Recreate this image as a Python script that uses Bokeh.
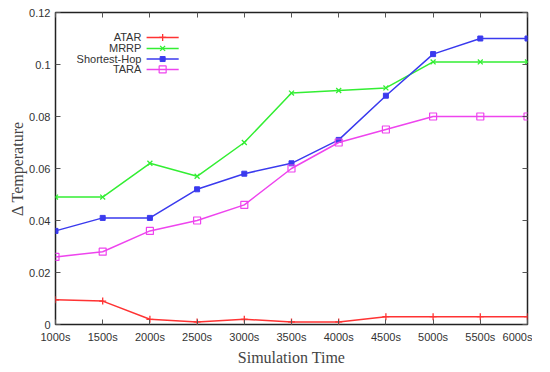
from bokeh.plotting import figure
from bokeh.models import LinearAxis, FixedTicker, Range1d
from bokeh.core.properties import value
from bokeh.embed import file_html
from bokeh.resources import INLINE

times = ["1000s", "1500s", "2000s", "2500s", "3000s", "3500s", "4000s", "4500s", "5000s", "5500s", "6000s"]
atar = [0.0095, 0.009, 0.002, 0.001, 0.002, 0.001, 0.001, 0.003, 0.003, 0.003, 0.003]
mrrp = [0.049, 0.049, 0.062, 0.057, 0.070, 0.089, 0.090, 0.091, 0.101, 0.101, 0.101]
shortest_hop = [0.036, 0.041, 0.041, 0.052, 0.058, 0.062, 0.071, 0.088, 0.104, 0.110, 0.110]
tara = [0.026, 0.028, 0.036, 0.040, 0.046, 0.060, 0.070, 0.075, 0.080, 0.080, 0.080]
y_ticks = [0, 0.02, 0.04, 0.06, 0.08, 0.1, 0.12]
y_tick_labels = ["0", "0.02", "0.04", "0.06", "0.08", "0.1", "0.12"]

names = ["ATAR", "MRRP", "Shortest-Hop", "TARA"]
colors = ["#ff3333", "#33ee33", "#3a3aee", "#ee44ee"]
series = [atar, mrrp, shortest_hop, tara]

xs = list(range(len(times)))

p = figure(frame_width=472, frame_height=312, output_backend="svg", toolbar_location=None,
           x_range=Range1d(0, len(times) - 1), y_range=Range1d(0, 0.12),
           min_border_left=55, min_border_right=5, min_border_top=12, min_border_bottom=5)
p.xgrid.visible = False
p.ygrid.visible = False
p.outline_line_color = "#222222"
p.outline_line_width = 1.5
p.background_fill_color = "white"
p.border_fill_color = "white"

tick_font = "Liberation Sans"

def style_axis(ax):
    ax.axis_line_color = None
    ax.major_tick_in = 5
    ax.major_tick_out = 0
    ax.minor_tick_line_color = None
    ax.major_tick_line_color = "#555555"
    ax.major_label_text_font = tick_font
    ax.major_label_text_font_size = "11px"
    ax.major_label_text_color = "#333333"

# bottom axis
xa = p.xaxis[0]
xa.ticker = FixedTicker(ticks=xs)
xa.major_label_overrides = {i: t for i, t in enumerate(times)}
style_axis(xa)
xa.major_label_standoff = 6
xa.axis_label = "Simulation Time"
xa.axis_label_text_font = "Liberation Serif"
xa.axis_label_text_font_style = "normal"
xa.axis_label_text_font_size = "16px"
xa.axis_label_standoff = 3

ya = p.yaxis[0]
ya.ticker = FixedTicker(ticks=y_ticks)
ya.major_label_overrides = {t: l for t, l in zip(y_ticks, y_tick_labels)}
style_axis(ya)
ya.major_label_standoff = 5
ya.axis_label = "\u0394 Temperature"
ya.axis_label_text_font = "Liberation Serif"
ya.axis_label_text_font_style = "normal"
ya.axis_label_text_font_size = "16px"
ya.axis_label_standoff = 0

top = LinearAxis(ticker=FixedTicker(ticks=xs))
style_axis(top)
top.major_label_overrides = {i: "" for i in xs}
top.major_label_standoff = 0
p.add_layout(top, "above")
right = LinearAxis(ticker=FixedTicker(ticks=y_ticks))
style_axis(right)
right.major_label_overrides = {t: "" for t in y_ticks}
right.major_label_standoff = 0
p.add_layout(right, "right")

markers = ["cross", "x", "square", "square"]
for name, col, ys, mk in zip(names, colors, series, markers):
    p.line(xs, ys, line_color=col, line_width=1.5)
    if name == "TARA":
        p.scatter(xs, ys, marker="square", size=7, line_color=col, fill_color=None, line_width=1.2)
    elif name == "Shortest-Hop":
        p.scatter(xs, ys, marker="square", size=5, line_color=col, fill_color=col)
    else:
        p.scatter(xs, ys, marker=mk, size=7, line_color=col, line_width=1.3)

# legend (gnuplot style: label then sample)
leg_y = [0.1104, 0.1062, 0.1021, 0.0981]
leg_text_x = 1.82
leg_x0, leg_x1, leg_mx = 1.93, 2.61, 2.27
p.text(x=[leg_text_x] * 4, y=leg_y, text=names, text_align="right", text_baseline="middle",
       text_font=value(tick_font), text_font_size="11px", text_color="#333333")
for name, col, ly, mk in zip(names, colors, leg_y, markers):
    p.line([leg_x0, leg_x1], [ly, ly], line_color=col, line_width=1.5)
    if name == "TARA":
        p.scatter([leg_mx], [ly], marker="square", size=7, line_color=col, fill_color=None, line_width=1.2)
    elif name == "Shortest-Hop":
        p.scatter([leg_mx], [ly], marker="square", size=5, line_color=col, fill_color=col)
    else:
        p.scatter([leg_mx], [ly], marker=mk, size=7, line_color=col, line_width=1.3)

open("out.html", "w").write(file_html(p, INLINE))
